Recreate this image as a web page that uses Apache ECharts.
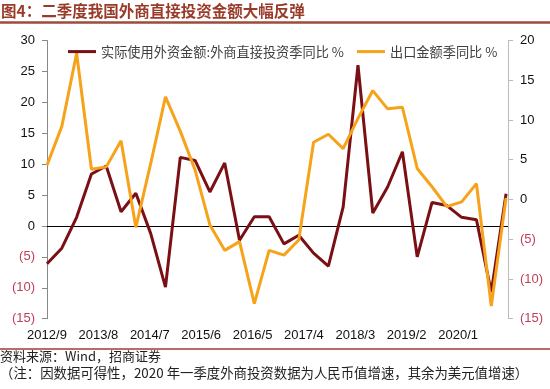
<!DOCTYPE html>
<html>
<head>
<meta charset="utf-8">
<script src="https://cdn.jsdelivr.net/npm/echarts@6/dist/echarts.min.js"></script>
<style>
html,body{margin:0;padding:0;background:#fff;}
#chart{width:550px;height:389px;}
</style>
</head>
<body>
<div id="chart"></div>
<script>
// Tick labels on the x axis (Excel date-axis style, one every ~3.47 quarters)
const xTickLabels = ['2012/9','2013/8','2014/7','2015/6','2016/5','2017/4','2018/3','2019/2','2020/1'];
const xTickStep = 3.47;            // label spacing measured in quarters
const quarterCount = 32;           // 2012Q3 .. 2020Q2

// 实际使用外资金额:外商直接投资季同比 % (left axis)
const fdiYoY = [-6.1,-3.6,1.4,8.4,9.7,2.3,5.3,-1.2,-9.9,11.1,10.6,5.5,10.2,-2.3,1.5,1.5,
                -2.9,-1.5,-4.4,-6.5,3.1,26.0,2.1,6.3,12.0,-5.0,3.8,3.3,1.4,1.0,-10.7,5.2];
// 出口金额季同比 % (right axis)
const exportYoY = [4.3,9.2,18.4,3.8,4.1,7.4,-3.5,4.5,12.9,8.6,3.7,-3.2,-6.4,-5.3,-13.1,-6.4,
                   -7.0,-5.1,7.2,8.2,6.4,10.2,13.7,11.4,11.6,3.9,1.6,-0.9,-0.3,2.0,-13.4,0.2];

const seriesNames = ['实际使用外资金额:外商直接投资季同比 %', '出口金额季同比 %'];

const latin = 'Liberation Sans, Arial, Noto Sans CJK SC, sans-serif';
const cjk = 'Noto Sans CJK SC, Liberation Sans, sans-serif';
const negColor = '#c0405a';

function yFmt(v){
  return v < 0 ? '{neg|(' + Math.abs(v) + ')}' : '{pos|' + v + '}';
}
const yRich = {
  neg:{color:negColor,fontSize:13,fontFamily:latin},
  pos:{color:'#111',fontSize:13,fontFamily:latin}
};

const chart = echarts.init(document.getElementById('chart'), null, {renderer:'canvas'});
chart.setOption({
  backgroundColor:'#fff',
  animation:false,
  grid:{left:47,right:42,top:40.5,bottom:70.3,containLabel:false},
  legend:{
    data:seriesNames,
    left:63, top:40,
    icon:'rect', itemWidth:28, itemHeight:3, itemGap:13,
    textStyle:{fontSize:13.2,color:'#404040',fontFamily:cjk}
  },
  xAxis:{
    type:'value', min:0, max:31.13, interval:xTickStep,
    axisLine:{show:false}, axisTick:{show:false}, splitLine:{show:false},
    axisLabel:{
      margin:10, fontSize:13, color:'#111', fontFamily:latin,
      formatter:function(v){
        const k = Math.round(v / xTickStep);
        if (Math.abs(v - k * xTickStep) < 0.01 && k >= 0 && k < xTickLabels.length) return xTickLabels[k];
        return '';
      }
    }
  },
  yAxis:[
    {type:'value', position:'left', min:-15, max:30, interval:5,
     axisLine:{show:true,lineStyle:{color:'#888',width:1}},
     axisTick:{show:true,inside:false,length:5,lineStyle:{color:'#888'}},
     splitLine:{show:false},
     axisLabel:{margin:12, formatter:yFmt, rich:yRich}},
    {type:'value', position:'right', min:-15, max:20, interval:5,
     axisLine:{show:true,lineStyle:{color:'#bbb',width:1}},
     axisTick:{show:true,inside:false,length:5,lineStyle:{color:'#bbb'}},
     splitLine:{show:false},
     axisLabel:{margin:12, formatter:yFmt, rich:yRich}}
  ],
  series:[
    {name:seriesNames[0], type:'line', yAxisIndex:0, showSymbol:false, symbol:'none',
     data:fdiYoY.map((v,i)=>[i,v]),
     lineStyle:{color:'#7a0f14',width:3}, itemStyle:{color:'#7a0f14'},
     markLine:{silent:true, z:1, symbol:['none','none'], label:{show:false},
               lineStyle:{color:'#000',width:1,type:'solid'}, data:[{yAxis:0}]}},
    {name:seriesNames[1], type:'line', yAxisIndex:1, showSymbol:false, symbol:'none',
     data:exportYoY.map((v,i)=>[i,v]),
     lineStyle:{color:'#f7a21b',width:3}, itemStyle:{color:'#f7a21b'}}
  ],
  graphic:[
    {type:'text', left:1, top:3, style:{text:'图4：二季度我国外商直接投资金额大幅反弹', fontSize:15.5, fontWeight:'bold', fill:'#9a3b2a', fontFamily:cjk}},
    {type:'line', shape:{x1:0,y1:22.5,x2:550,y2:22.5}, style:{stroke:'#9e4a3c',lineWidth:2.5}},
    {type:'line', shape:{x1:0,y1:349,x2:550,y2:349}, style:{stroke:'#a03a3a',lineWidth:1.5}},
    {type:'text', left:0, top:349.5, style:{text:'资料来源：Wind，招商证券', fontSize:13, fill:'#222', fontFamily:cjk}},
    {type:'text', left:0, top:366, style:{text:'（注：因数据可得性，2020 年一季度外商投资数据为人民币值增速，其余为美元值增速）', fontSize:13.4, fill:'#222', fontFamily:cjk}}
  ]
});
</script>
</body>
</html>
